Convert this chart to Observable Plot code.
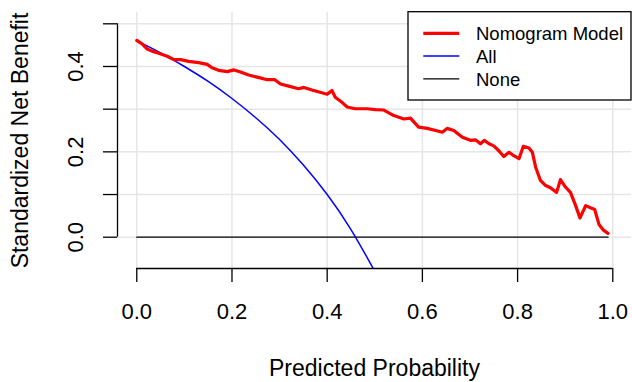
<!DOCTYPE html>
<html>
<head>
<meta charset="utf-8">
<script src="https://cdn.jsdelivr.net/npm/d3@7"></script>
<script src="https://cdn.jsdelivr.net/npm/@observablehq/plot@0.6"></script>
<style>
  html, body { margin: 0; padding: 0; background: #fff; }
  svg { display: block; }
</style>
</head>
<body>
<div id="chart"></div>
<script>
// ---- data ----
const nomoThresholds = [0.000, 0.011, 0.022, 0.032, 0.046, 0.064, 0.078, 0.092, 0.109, 0.130,
  0.148, 0.158, 0.172, 0.190, 0.204, 0.218, 0.235, 0.253, 0.274, 0.290,
  0.302, 0.319, 0.340, 0.351, 0.368, 0.400, 0.410, 0.417, 0.431, 0.442,
  0.459, 0.484, 0.501, 0.519, 0.540, 0.561, 0.575, 0.592, 0.610, 0.628,
  0.642, 0.652, 0.666, 0.684, 0.701, 0.712, 0.722, 0.730, 0.740, 0.750,
  0.761, 0.771, 0.782, 0.792, 0.803, 0.812, 0.824, 0.831, 0.838, 0.848,
  0.859, 0.869, 0.882, 0.890, 0.901, 0.911, 0.922, 0.931, 0.943, 0.953,
  0.962, 0.971, 0.981, 0.990];
const nomoBenefit = [0.461, 0.453, 0.441, 0.436, 0.431, 0.424, 0.416, 0.416, 0.412, 0.409,
  0.405, 0.397, 0.391, 0.388, 0.392, 0.387, 0.380, 0.375, 0.369, 0.369,
  0.359, 0.354, 0.348, 0.351, 0.345, 0.335, 0.344, 0.328, 0.316, 0.305,
  0.301, 0.301, 0.299, 0.298, 0.285, 0.277, 0.279, 0.258, 0.255, 0.250,
  0.246, 0.255, 0.250, 0.234, 0.227, 0.228, 0.219, 0.227, 0.219, 0.214,
  0.202, 0.189, 0.199, 0.191, 0.184, 0.213, 0.209, 0.199, 0.164, 0.133,
  0.121, 0.116, 0.105, 0.135, 0.117, 0.105, 0.074, 0.045, 0.074, 0.069,
  0.065, 0.030, 0.016, 0.009];

const allThresholds = [0.00, 0.05, 0.10, 0.15, 0.20, 0.25, 0.30, 0.35, 0.40, 0.45, 0.50];
const allBenefit    = [0.460, 0.432, 0.400, 0.365, 0.325, 0.280, 0.229, 0.169, 0.100, 0.018, -0.080];

const noneThresholds = [0.00, 0.99];
const noneBenefit    = [0.00, 0.00];

const seriesNames  = ["Nomogram Model", "All", "None"];
const seriesColors = ["#ff0000", "#0000ff", "#000000"];

const xTicks = [0, 0.2, 0.4, 0.6, 0.8, 1.0];
const yTicks = [0, 0.1, 0.2, 0.3, 0.4, 0.5];
const yLabelTicks = [0, 0.2, 0.4];

const xTitle = "Predicted Probability";
const yTitle = "Standardized Net Benefit";

// ---- build tables ----
const nomo = nomoThresholds.map((t, i) => ({t, v: nomoBenefit[i]}));
const all  = allThresholds.map((t, i) => ({t, v: allBenefit[i]}));
const none = noneThresholds.map((t, i) => ({t, v: noneBenefit[i]}));

const X0 = -0.0405, X1 = 1.0393, Y0 = -0.0733, Y1 = 0.5265;
const fmt = d3.format(".1f");
const gridColor = "#e6e6e6";
const FONT = "'Liberation Sans', Arial, Helvetica, sans-serif";

const plot = Plot.plot({
  width: 632,
  height: 382,
  marginLeft: 117,
  marginRight: 1,
  marginTop: 12,
  marginBottom: 114,
  style: {fontFamily: FONT, background: "#fff", color: "#000", overflow: "visible"},
  x: {domain: [X0, X1]},
  y: {domain: [Y0, Y1]},
  marks: [
    Plot.gridX(xTicks, {stroke: gridColor, strokeOpacity: 1, strokeWidth: 1.5}),
    Plot.gridY(yTicks, {stroke: gridColor, strokeOpacity: 1, strokeWidth: 1.5}),
    // axes (R style)
    Plot.ruleY([Y0], {x1: xTicks[0], x2: xTicks[xTicks.length - 1], stroke: "#000", strokeWidth: 1.3}),
    Plot.axisX(xTicks, {tickSize: 14, tickPadding: 21, tickFormat: fmt, fontSize: 22, strokeWidth: 1.3, label: null}),
    Plot.ruleX([X0], {y1: yTicks[0], y2: yTicks[yTicks.length - 1], stroke: "#000", strokeWidth: 1.3}),
    Plot.axisY(yTicks, {tickSize: 14, tickFormat: () => "", strokeWidth: 1.3, label: null}),
    Plot.text(yLabelTicks, {frameAnchor: "left", y: d => d, text: d => fmt(d), rotate: -90, dx: -42,
      fontSize: 22, textAnchor: "middle", lineAnchor: "middle"}),
    Plot.text([yTitle], {frameAnchor: "left", text: d => d, rotate: -90, dx: -97,
      fontSize: 23, textAnchor: "middle", lineAnchor: "middle"}),
    Plot.text([xTitle], {frameAnchor: "bottom", text: d => d, dy: 107,
      fontSize: 23, textAnchor: "middle", lineAnchor: "bottom"}),
    // series
    Plot.line(none, {x: "t", y: "v", stroke: seriesColors[2], strokeWidth: 1.3}),
    Plot.line(all, {x: "t", y: "v", stroke: seriesColors[1], strokeWidth: 1.5, curve: "natural", clip: true}),
    Plot.line(nomo, {x: "t", y: "v", stroke: seriesColors[0], strokeWidth: 3.2, strokeLinejoin: "round"})
  ]
});

// ---- legend (top-right box, R style) ----
const svg = d3.select(plot);
const lg = svg.append("g").attr("font-family", FONT).attr("text-anchor", "start");
lg.append("rect").attr("x", 408).attr("y", 11.7).attr("width", 223).attr("height", 88.3)
  .attr("fill", "#fff").attr("stroke", "#000").attr("stroke-width", 1.3);
const legendWidths = [3.2, 1.5, 1.3];
seriesNames.forEach((name, i) => {
  const y = 33.3 + i * 22.8;
  lg.append("line").attr("x1", 423.3).attr("x2", 459.3).attr("y1", y).attr("y2", y)
    .attr("stroke", seriesColors[i]).attr("stroke-width", legendWidths[i]);
  lg.append("text").attr("x", 476).attr("y", y + 7).attr("font-size", 18.5)
    .attr("text-anchor", "start").attr("fill", "#000").text(name);
});

document.getElementById("chart").appendChild(plot);
</script>
</body>
</html>
